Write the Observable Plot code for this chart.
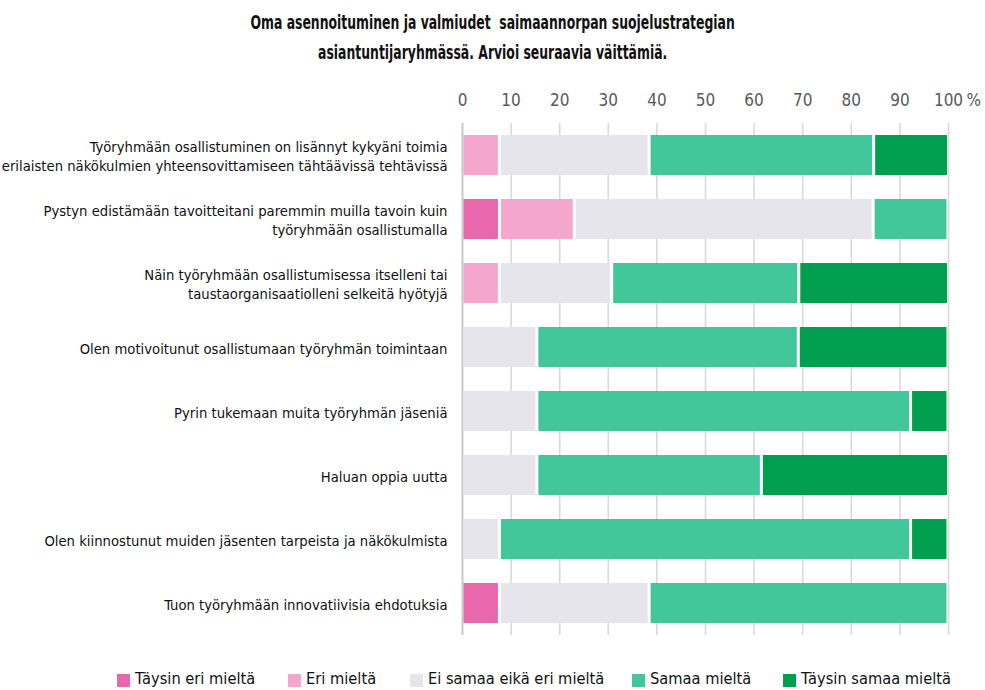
<!DOCTYPE html>
<html>
<head>
<meta charset="utf-8">
<script src="https://cdn.jsdelivr.net/npm/d3@7"></script>
<script src="https://cdn.jsdelivr.net/npm/@observablehq/plot@0.6"></script>
<style>
  html, body { margin: 0; padding: 0; background: #fff; }
  body { width: 985px; height: 690px; position: relative; overflow: hidden;
         font-family: 'DejaVu Sans Condensed', 'DejaVu Sans', sans-serif; font-stretch: condensed; }
  #title { position: absolute; left: 0; top: 7px; width: 985px; text-align: center;
           font-weight: bold; font-size: 20px; line-height: 30px; color: #111;
           transform: scaleX(0.69); transform-origin: 493px 0; }
  #chart { position: absolute; left: 0; top: 80px; }
  #legend { position: absolute; left: 0; top: 669px; width: 985px; height: 22px; }
  .item { position: absolute; top: 0; display: flex; align-items: center; font-size: 16.3px; color: #111; white-space: nowrap; }
  .sw { width: 13px; height: 13px; margin-right: 5px; margin-top: 3px; }
  svg text { font-stretch: condensed; }
</style>
</head>
<body>
<div id="title">Oma asennoituminen ja valmiudet&nbsp; saimaannorpan suojelustrategian<br>asiantuntijaryhmässä. Arvioi seuraavia väittämiä.</div>
<div id="chart"></div>
<div id="legend"></div>
<script>
const questions = [
  "Työryhmään osallistuminen on lisännyt kykyäni toimia\nerilaisten näkökulmien yhteensovittamiseen tähtäävissä tehtävissä",
  "Pystyn edistämään tavoitteitani paremmin muilla tavoin kuin\ntyöryhmään osallistumalla",
  "Näin työryhmään osallistumisessa itselleni tai\ntaustaorganisaatiolleni selkeitä hyötyjä",
  "Olen motivoitunut osallistumaan työryhmän toimintaan",
  "Pyrin tukemaan muita työryhmän jäseniä",
  "Haluan oppia uutta",
  "Olen kiinnostunut muiden jäsenten tarpeista ja näkökulmista",
  "Tuon työryhmään innovatiivisia ehdotuksia"
];
const responses = ["Täysin eri mieltä", "Eri mieltä", "Ei samaa eikä eri mieltä", "Samaa mieltä", "Täysin samaa mieltä"];
const colors = ["#e967ad", "#f4a6cd", "#e7e5ec", "#41c79a", "#009e4f"];

const taysinEri   = [0,    7.7,  0,    0,    0,    0,    0,    7.7];
const eri         = [7.7,  15.4, 7.7,  0,    0,    0,    0,    0];
const eiSamaa     = [30.8, 61.5, 23.1, 15.4, 15.4, 15.4, 7.7,  30.8];
const samaa       = [46.2, 15.4, 38.5, 53.8, 76.9, 46.2, 84.6, 61.5];
const taysinSamaa = [15.4, 0,    30.8, 30.8, 7.7,  38.5, 7.7,  0];

const tickValues = [0, 10, 20, 30, 40, 50, 60, 70, 80, 90, 100];
const tickLabels = ["0", "10", "20", "30", "40", "50", "60", "70", "80", "90", "100"];

const series = [taysinEri, eri, eiSamaa, samaa, taysinSamaa];
const rows = [];
questions.forEach((q, i) => {
  series.forEach((s, j) => {
    if (s[i] > 0) rows.push({question: q, response: responses[j], value: s[i]});
  });
});

const font = "'DejaVu Sans Condensed', 'DejaVu Sans', sans-serif";

const chart = Plot.plot({
  width: 985,
  height: 575,
  marginLeft: 462,
  marginRight: 37,
  marginTop: 43,
  marginBottom: 20,
  style: {fontFamily: font, background: "transparent"},
  x: {domain: [0, 100], axis: null},
  y: {domain: questions, axis: null, paddingInner: 0.375, paddingOuter: 0.1875},
  color: {domain: responses, range: colors},
  marks: [
    Plot.ruleX(tickValues.filter(d => d > 0), {x: d => d, stroke: "#d9d9d9", strokeWidth: 1.6}),
    Plot.ruleX([0], {stroke: "#c8c8c8", strokeWidth: 2}),
    Plot.barX(rows, Plot.stackX({
      x: "value", y: "question", fill: "response", order: responses,
      insetLeft: 1.5, insetRight: 1.5
    })),
    Plot.text(tickValues, {
      x: d => d, text: (d, i) => tickLabels[i], frameAnchor: "top", dy: -23,
      fill: "#595959", fontSize: 17, lineAnchor: "middle"
    }),
    Plot.text(["%"], {
      x: () => 100, frameAnchor: "top", dy: -23, dx: 18, textAnchor: "start",
      fill: "#595959", fontSize: 17, lineAnchor: "middle"
    }),
    Plot.text(questions, {
      y: d => d, frameAnchor: "left", textAnchor: "end", dx: -15,
      fontSize: 14.7, lineHeight: 1.3, fill: "#111", lineAnchor: "middle"
    })
  ]
});
document.getElementById("chart").appendChild(chart);

const legendLeft = [117, 288, 410, 632, 783];
const legend = document.getElementById("legend");
responses.forEach((r, i) => {
  const it = document.createElement("div");
  it.className = "item";
  it.style.left = legendLeft[i] + "px";
  const sw = document.createElement("div");
  sw.className = "sw";
  sw.style.background = colors[i];
  const t = document.createElement("span");
  t.textContent = r;
  it.appendChild(sw);
  it.appendChild(t);
  legend.appendChild(it);
});
</script>
</body>
</html>
